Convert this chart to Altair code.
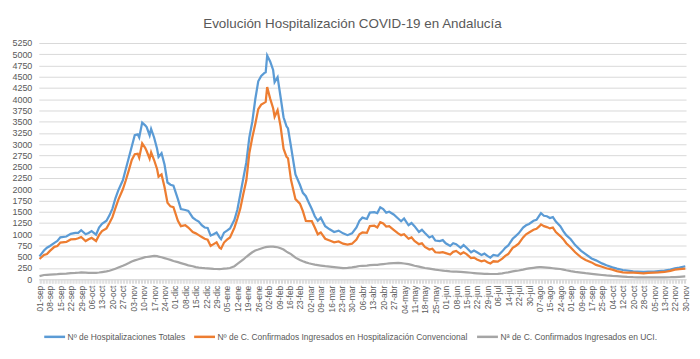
import altair as alt
import pandas as pd

# category index (0 = 01-sep-2020 ... 434 = 30-nov-2021)
idx = [0, 3, 5, 7, 10, 12, 14, 18, 21, 24, 26, 28, 31, 33, 35, 38, 40, 42, 45, 47,
       49, 51, 53, 56, 58, 60, 62, 64, 66, 67, 69, 71, 72, 74, 75, 77, 79, 80, 82, 84,
       86, 88, 90, 93, 95, 98, 100, 103, 105, 107, 109, 111, 113, 115, 117, 119, 121, 122, 124, 126,
       128, 131, 133, 135, 137, 139, 141, 143, 145, 147, 149, 151, 152, 153, 155, 157, 158, 160, 162, 164,
       166, 167, 169, 172, 175, 177, 179, 181, 183, 185, 187, 189, 192, 195, 198, 201, 204, 207, 210, 213,
       215, 217, 220, 222, 225, 227, 229, 231, 233, 235, 238, 241, 243, 245, 248, 250, 252, 255, 257, 259,
       262, 264, 266, 269, 271, 273, 276, 278, 280, 283, 285, 287, 290, 292, 294, 297, 299, 301, 303, 305,
       308, 311, 313, 315, 318, 320, 322, 325, 327, 329, 332, 334, 336, 337, 339, 341, 343, 345, 347, 350,
       352, 354, 357, 360, 364, 367, 371, 374, 378, 381, 385, 388, 392, 395, 399, 402, 406, 409, 413, 416,
       420, 424, 427, 430, 434]

totales = [510, 640, 700, 740, 810, 850, 930, 950, 1010, 1030, 1030, 1090, 1000, 1030, 1070, 990, 1150, 1230, 1300, 1420,
           1570, 1800, 1980, 2200, 2450, 2700, 2950, 3200, 3220, 3150, 3480, 3420, 3380, 3200, 3340, 3150, 2900, 2720, 2800, 2550,
           2150, 2100, 2080, 1780, 1560, 1540, 1520, 1370, 1320, 1280, 1200, 1150, 1140, 970, 1000, 1040, 930, 890, 1036, 1080,
           1130, 1320, 1550, 1900, 2250, 2600, 3150, 3500, 4000, 4400, 4520, 4580, 4600, 4970, 4840, 4650, 4380, 4490, 4050, 3600,
           3400, 3350, 2950, 2330, 2100, 1920, 1845, 1700, 1560, 1400, 1300, 1370, 1180, 1110, 1050, 1080, 1020, 980, 1020, 1150,
           1300, 1370, 1340, 1480, 1490, 1470, 1600, 1560, 1480, 1500, 1440, 1350, 1290, 1350, 1200, 1250, 1180, 1050, 1100, 1030,
           930, 960, 860, 850, 870, 800, 740, 800, 780, 700, 760, 700, 600, 640, 600, 540, 570, 520, 480, 540,
           520, 620, 700, 750, 900, 960, 1020, 1150, 1200, 1230, 1300, 1320, 1420, 1470, 1410, 1400, 1360, 1380, 1280, 1180,
           1070, 980, 890, 760, 632, 560, 463, 420, 353, 310, 265, 235, 206, 195, 176, 170, 162, 168, 169, 180,
           191, 215, 243, 260, 290]

convencional = [450, 540, 560, 630, 720, 740, 815, 830, 885, 890, 910, 940, 850, 890, 920, 850, 980, 1070, 1130, 1250,
                1380, 1580, 1770, 2000, 2200, 2420, 2650, 2780, 2790, 2700, 3020, 2920, 2850, 2680, 2820, 2650, 2450, 2280, 2330, 2050,
                1700, 1620, 1600, 1300, 1180, 1200, 1150, 1050, 1020, 980, 940, 900, 880, 740, 780, 820, 700, 680, 816, 880,
                930, 1147, 1350, 1580, 1900, 2200, 2800, 3150, 3450, 3780, 3880, 3920, 3940, 4270, 4015, 3800, 3610, 3757, 3400, 2900,
                2720, 2690, 2210, 1780, 1680, 1515, 1294, 1290, 1290, 1150, 1000, 1040, 900, 860, 820, 840, 790, 770, 790, 880,
                1000, 1040, 1030, 1180, 1190, 1150, 1270, 1240, 1170, 1180, 1100, 1020, 980, 1000, 900, 930, 850, 780, 800, 720,
                660, 680, 600, 590, 600, 580, 550, 610, 630, 560, 600, 560, 470, 480, 440, 400, 420, 380, 350, 400,
                390, 460, 520, 560, 700, 740, 790, 930, 1000, 1040, 1100, 1120, 1180, 1220, 1180, 1160, 1130, 1150, 1050, 960,
                890, 800, 706, 600, 485, 430, 375, 320, 279, 245, 213, 180, 154, 150, 147, 140, 132, 140, 147, 152,
                162, 185, 213, 225, 235]

uci = [70, 95, 100, 105, 110, 112, 118, 125, 135, 140, 145, 155, 148, 142, 140, 142, 150, 160, 175, 190,
       210, 235, 260, 300, 330, 360, 395, 420, 440, 450, 470, 490, 495, 505, 510, 520, 512, 505, 490, 470,
       450, 430, 405, 380, 360, 330, 310, 290, 270, 260, 252, 246, 242, 238, 232, 228, 225, 228, 235, 240,
       250, 290, 340, 390, 440, 500, 550, 600, 640, 660, 685, 705, 715, 720, 725, 725, 722, 712, 690, 660,
       615, 595, 560, 480, 430, 400, 375, 355, 340, 325, 315, 305, 290, 280, 270, 260, 250, 255, 265, 280,
       295, 300, 305, 312, 318, 322, 330, 338, 345, 352, 360, 362, 358, 350, 335, 320, 300, 280, 265, 250,
       235, 225, 213, 200, 192, 184, 175, 172, 169, 162, 158, 155, 145, 138, 132, 125, 120, 118, 117, 117,
       118, 130, 145, 155, 175, 185, 195, 215, 230, 243, 255, 262, 268, 270, 265, 260, 252, 245, 238, 228,
       215, 200, 180, 165, 148, 135, 122, 110, 95, 85, 75, 70, 60, 52, 46, 44, 44, 44, 44, 44,
       44, 46, 50, 55, 62]

tick_labels = ["01-sep", "08-sep", "15-sep", "22-sep", "29-sep", "06-oct", "13-oct", "20-oct", "27-oct",
               "03-nov", "10-nov", "17-nov", "24-nov", "01-dic", "08-dic", "15-dic", "22-dic", "29-dic",
               "05-ene", "12-ene", "19-ene", "26-ene", "02-feb", "09-feb", "16-feb", "23-feb", "02-mar",
               "09-mar", "16-mar", "23-mar", "30-mar", "06-abr", "13-abr", "20-abr", "27-abr", "04-may",
               "11-may", "18-may", "25-may", "01-jun", "08-jun", "15-jun", "22-jun", "29-jun", "06-jul",
               "14-jul", "22-jul", "30-jul", "07-ago", "15-ago", "24-ago", "01-sep", "09-sep", "17-sep",
               "25-sep", "04-oct", "12-oct", "20-oct", "28-oct", "05-nov", "13-nov", "22-nov", "30-nov"]

series_names = ["Nº de Hospitalizaciones Totales",
                "Nº de C. Confirmados Ingresados en Hospitalización Convencional",
                "Nª de C. Confirmados Ingresados en UCI."]
colors = ["#5B9BD5", "#ED7D31", "#A5A5A5"]
y_ticks = list(range(0, 5251, 250))
n_cat = 435

rows = []
for name, vals in zip(series_names, [totales, convencional, uci]):
    for i, v in zip(idx, vals):
        rows.append({"idx": i, "valor": v, "serie": name})
df = pd.DataFrame(rows)

label_arr = "[" + ",".join("'" + l + "'" for l in tick_labels) + "]"
label_expr = "datum.value % 7 === 0 ? " + label_arr + "[datum.value / 7] : ''"

TXT = "#595959"
GRID = "#D9D9D9"

x = alt.X("idx:Q",
          scale=alt.Scale(domain=[-0.5, n_cat - 0.5], nice=False, zero=False),
          axis=alt.Axis(values=list(range(n_cat)), labelExpr=label_expr, labelAngle=-90,
                        labelOverlap=False, grid=False, tickSize=4, tickColor=GRID,
                        domainColor=GRID, labelFontSize=8.5, labelColor=TXT,
                        labelPadding=2, title=None))
y = alt.Y("valor:Q",
          scale=alt.Scale(domain=[0, 5250], nice=False),
          axis=alt.Axis(values=y_ticks, format="d", grid=True, gridColor=GRID, domain=False,
                        ticks=False, labelPadding=7, labelFontSize=9, labelColor=TXT, title=None))
color = alt.Color("serie:N",
                  scale=alt.Scale(domain=series_names, range=colors),
                  legend=alt.Legend(title=None, orient="none", legendX=4, legendY=284,
                                    direction="horizontal", symbolType="stroke",
                                    symbolSize=441, symbolStrokeWidth=2.5,
                                    labelFontSize=8.5, labelColor=TXT, columnPadding=3,
                                    labelLimit=500, labelOffset=1))

base = alt.Chart(df).mark_line(strokeWidth=2.25).encode(x=x, y=y, color=color)
layers = [base.transform_filter(alt.datum.serie == name) for name in series_names]

chart = alt.layer(*layers).properties(
    width=652,
    height=238,
    autosize=alt.AutoSizeParams(type="none"),
    padding={"left": 31, "top": 34, "right": 6, "bottom": 70},
    title=alt.TitleParams("Evolución Hospitalización COVID-19 en Andalucía",
                          fontSize=13.5, fontWeight="normal", color=TXT,
                          anchor="middle", offset=9, dx=-10),
).configure(font="Liberation Sans").configure_view(strokeWidth=0)

chart.save("out.html", embed_options={"renderer": "svg", "actions": False})
